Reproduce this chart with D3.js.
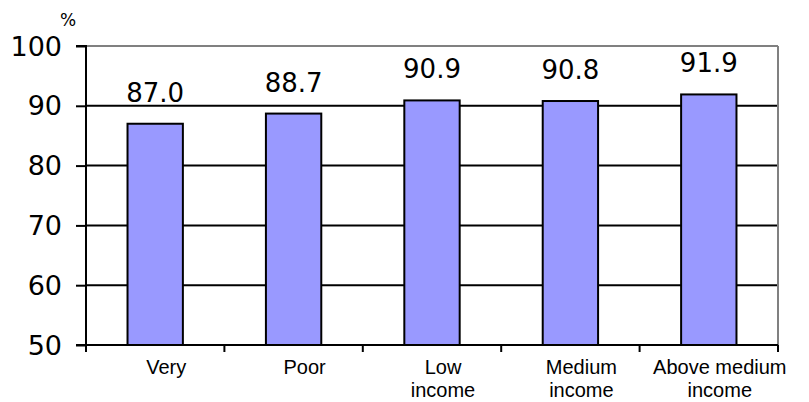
<!DOCTYPE html>
<html>
<head>
<meta charset="utf-8">
<script src="https://cdn.jsdelivr.net/npm/d3@7"></script>
<style>
  html, body { margin: 0; padding: 0; background: #fff; }
  svg { display: block; }
</style>
</head>
<body>
<svg id="chart" width="809" height="402"></svg>
<script>
// Share (%) by income group
const categories = [
  ["Very"],
  ["Poor"],
  ["Low", "income"],
  ["Medium", "income"],
  ["Above medium", "income"]
];
const values = [87.0, 88.7, 90.9, 90.8, 91.9];
const yTicks = [50, 60, 70, 80, 90, 100];

const svg = d3.select("#chart");
const plotLeft = 86, plotRight = 778, plotTop = 46, plotBottom = 345;

const x = d3.scaleBand()
  .domain(d3.range(categories.length))
  .range([plotLeft, plotRight])
  .paddingInner(0.6)
  .paddingOuter(0.3);

const y = d3.scaleLinear().domain([50, 100]).range([plotBottom, plotTop]);

// Horizontal gridlines (top one is the grey plot border)
svg.append("g").selectAll("line")
  .data(yTicks.filter(t => t > 50))
  .join("line")
  .attr("x1", plotLeft).attr("x2", plotRight)
  .attr("y1", d => y(d)).attr("y2", d => y(d))
  .attr("stroke", d => d === 100 ? "#808080" : "#000")
  .attr("stroke-width", 2);

// Right plot border
svg.append("line")
  .attr("x1", plotRight).attr("x2", plotRight)
  .attr("y1", plotTop).attr("y2", plotBottom)
  .attr("stroke", "#808080").attr("stroke-width", 2);

// Bars
svg.append("g").selectAll("rect")
  .data(values)
  .join("rect")
  .attr("x", (d, i) => x(i))
  .attr("width", x.bandwidth())
  .attr("y", d => y(d))
  .attr("height", d => y(50) - y(d))
  .attr("fill", "#9999ff")
  .attr("stroke", "#000")
  .attr("stroke-width", 2);

// Value labels
svg.append("g").selectAll("text")
  .data(values)
  .join("text")
  .attr("x", (d, i) => x(i) + x.bandwidth() / 2)
  .attr("y", d => y(d) - 22)
  .attr("text-anchor", "middle")
  .attr("font-family", "DejaVu Sans")
  .attr("font-size", 26)
  .attr("fill", "#000")
  .text(d => d.toFixed(1));

// Y axis
const yAxis = d3.axisLeft(y).tickValues(yTicks).tickSize(10).tickPadding(14);
const gy = svg.append("g").attr("transform", `translate(${plotLeft},0)`).call(yAxis);
gy.select(".domain").attr("stroke", "#000").attr("stroke-width", 2)
  .attr("d", `M-10,${plotTop}H0V${plotBottom + 6}`);
gy.selectAll(".tick line").attr("stroke", "#000").attr("stroke-width", 2);
gy.selectAll(".tick text")
  .attr("font-family", "DejaVu Sans")
  .attr("font-size", 27)
  .attr("fill", "#000")
  .attr("dy", "0.34em");

// X axis: ticks between categories
const xTickPos = d3.range(categories.length + 1).map(i => plotLeft + i * x.step());
svg.append("line")
  .attr("x1", plotLeft - 10).attr("x2", plotRight)
  .attr("y1", plotBottom).attr("y2", plotBottom)
  .attr("stroke", "#000").attr("stroke-width", 2);
svg.append("g").selectAll("line")
  .data(xTickPos)
  .join("line")
  .attr("x1", d => d).attr("x2", d => d)
  .attr("y1", plotBottom).attr("y2", plotBottom + 7)
  .attr("stroke", "#000").attr("stroke-width", 2);

// Category labels
const catG = svg.append("g").selectAll("text")
  .data(categories)
  .join("text")
  .attr("x", (d, i) => x(i) + x.bandwidth() / 2 + 11)
  .attr("y", 374)
  .attr("text-anchor", "middle")
  .attr("font-family", "Liberation Sans, Arial, sans-serif")
  .attr("font-size", 20)
  .attr("fill", "#000");
catG.selectAll("tspan")
  .data(d => d)
  .join("tspan")
  .attr("x", function () { return d3.select(this.parentNode).attr("x"); })
  .attr("dy", (d, i) => i === 0 ? 0 : 23)
  .text(d => d);

// Unit label
svg.append("text")
  .attr("x", 60).attr("y", 26)
  .attr("font-family", "DejaVu Sans")
  .attr("font-size", 17)
  .attr("fill", "#000")
  .text("%");
</script>
</body>
</html>
